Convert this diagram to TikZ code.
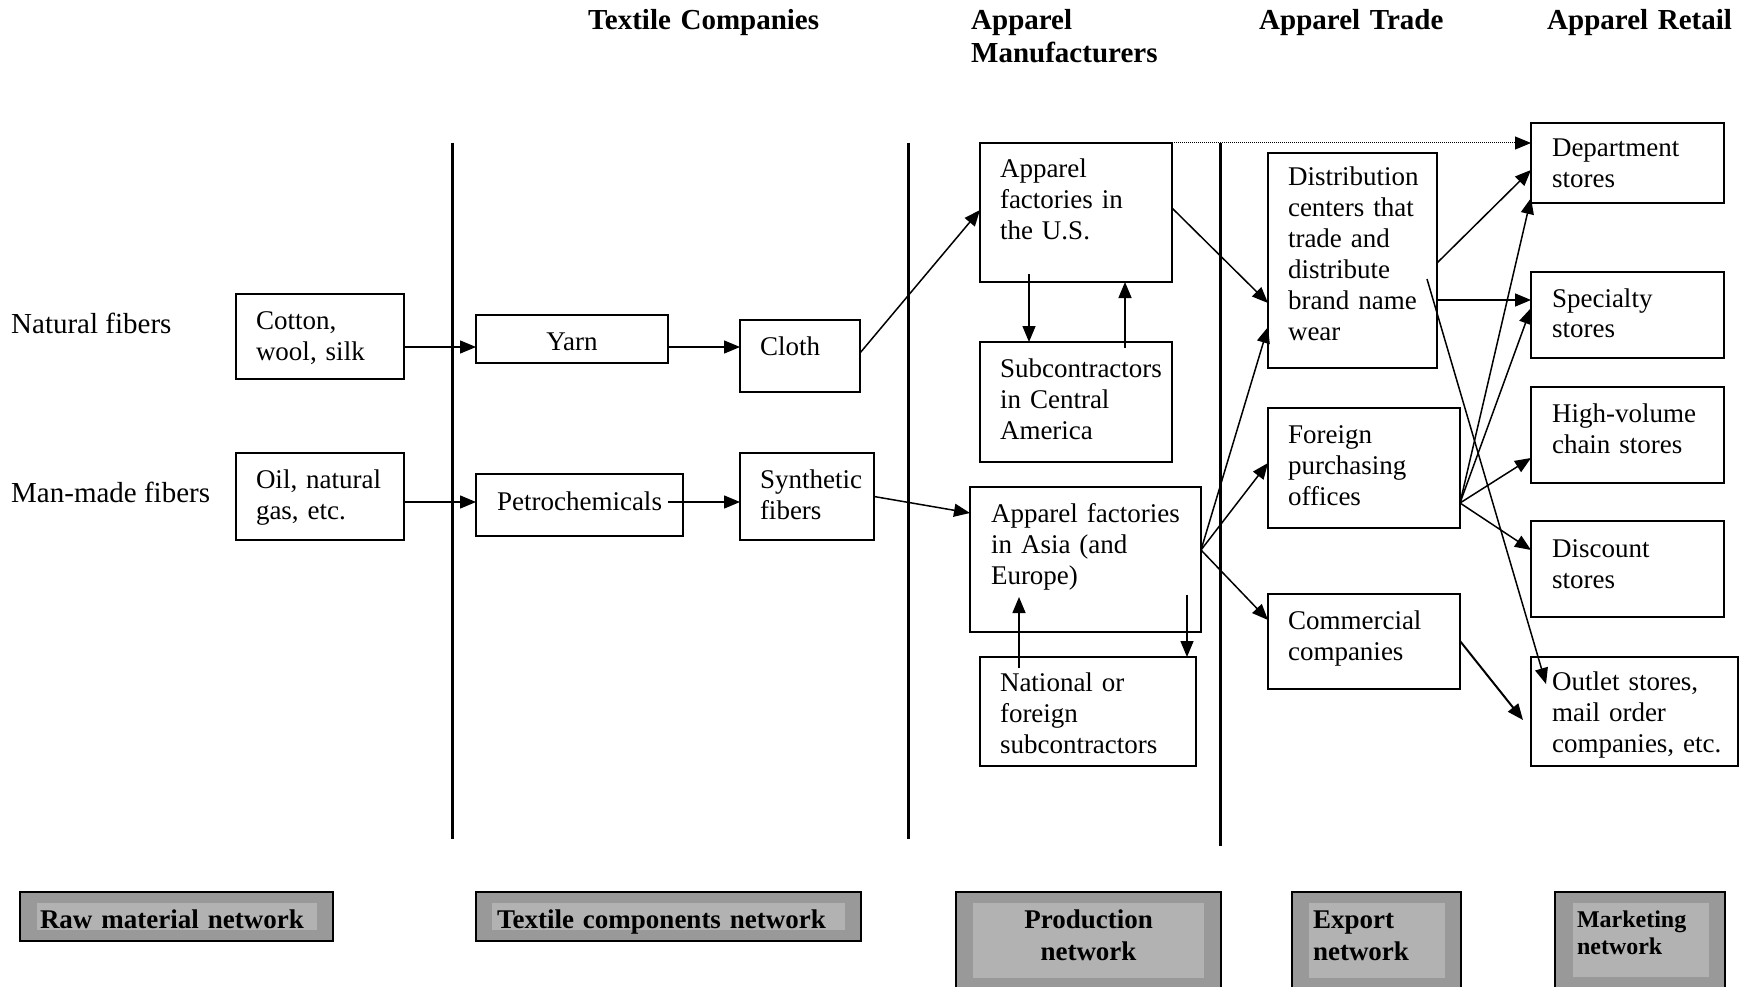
\documentclass[tikz,border=0pt]{standalone}
\usepackage{fontspec}
\setmainfont{Liberation Serif}
\usetikzlibrary{arrows.meta}

\definecolor{outergray}{gray}{0.6}
\definecolor{innergray}{gray}{0.7}
\newcommand{\cellfont}{\fontsize{27}{31}\selectfont}
\newcommand{\hdfont}{\fontsize{29}{33}\selectfont\bfseries}
\newcommand{\sidefont}{\fontsize{29}{33}\selectfont}
\newcommand{\netfont}{\fontsize{27}{32}\selectfont\bfseries}

\tikzset{
  lskip/.style={execute at begin node={\leftskip=#1\relax}},
  lskip/.default=20pt,
  plaincell/.style={draw, line width=1.6pt, anchor=north west, inner sep=0pt, outer sep=0pt, font=\cellfont},
  cell/.style={plaincell, align=left, lskip},
  midcell/.style={plaincell, align=center},
  head/.style={anchor=base west, inner sep=0pt, align=left, text width=260pt, font=\hdfont},
  side/.style={anchor=base west, inner sep=0pt, font=\sidefont},
  arr/.style={line width=1.5pt, -{Triangle[length=16pt,width=13pt]}},
  net/.style={draw, line width=1.8pt, fill=outergray, anchor=north west, inner sep=0pt, outer sep=0pt},
  netlab/.style={fill=innergray, anchor=north west, inner sep=0pt, outer sep=0pt, align=left, font=\netfont},
  divider/.style={line width=3pt}
}

\begin{document}
\begin{tikzpicture}[x=1pt, y=-1pt]
        \useasboundingbox (0,0) rectangle (1749,987);
        % column heads
        \node[head] (texthd) at (588,30) {Textile Companies};
        \node[head] (manuhd) at (971,30) {Apparel\\Manufacturers};
        \node[head] (tradehd) at (1259,30) {Apparel Trade};
        \node[head] (retailhd) at (1547,30) {Apparel Retail};
        \node[side] (natlab) at (11,333) {Natural fibers};
        \node[side] (manlab) at (11,502) {Man-made fibers};
        % dividers
        \draw[divider] (452,143) -- (452,839);
        \draw[divider] (908,143) -- (908,839);
        \draw[divider] (1220,143) -- (1220,846);
        % raw material and textile boxes
        \node[cell, text width=168pt, text height=35pt, text depth=50pt] (cotton) at (236,294) {Cotton,\\wool, silk};
        \node[cell, text width=168pt, text height=35pt, text depth=52pt] (oil) at (236,453) {Oil, natural\\gas, etc.};
        \node[midcell, text width=192pt, text height=35pt, text depth=13pt] (yarn) at (476,315) {Yarn};
        \node[midcell, text width=207pt, text height=36pt, text depth=26pt] (petro) at (476,474) {Petrochemicals};
        \node[cell, text width=120pt, text height=35pt, text depth=37pt] (cloth) at (740,320) {Cloth};
        \node[cell, text width=134pt, text height=35pt, text depth=52pt] (synth) at (740,453) {Synthetic\\fibers};
        % production boxes
        \node[cell, text width=192pt, text height=35pt, text depth=104pt] (usfac) at (980,143) {Apparel\\factories in\\the U.S.};
        \node[cell, text width=192pt, text height=35pt, text depth=85pt] (subca) at (980,342) {Subcontractors\\in Central\\America};
        \node[cell, lskip=21pt, text width=231pt, text height=35pt, text depth=110pt] (asia) at (970,487) {Apparel factories\\in Asia (and\\Europe)};
        \node[cell, text width=216pt, text height=34pt, text depth=75pt] (natsub) at (980,657) {National or\\foreign\\subcontractors};
        % trade boxes
        \node[cell, text width=169pt, text height=33pt, text depth=182pt] (dist) at (1268,153) {Distribution\\centers that\\trade and\\distribute\\brand name\\wear};
        \node[cell, text width=192pt, text height=35pt, text depth=85pt] (foreign) at (1268,408) {Foreign\\purchasing\\offices};
        \node[cell, text width=192pt, text height=35pt, text depth=60pt] (comm) at (1268,594) {Commercial\\companies};
        % retail boxes
        \node[cell, lskip=21pt, text width=193pt, text height=34pt, text depth=46pt] (dept) at (1531,123) {Department\\stores};
        \node[cell, lskip=21pt, text width=193pt, text height=35pt, text depth=51pt] (spec) at (1531,272) {Specialty\\stores};
        \node[cell, lskip=21pt, text width=193pt, text height=35pt, text depth=61pt] (highv) at (1531,387) {High-volume\\chain stores};
        \node[cell, lskip=21pt, text width=193pt, text height=36pt, text depth=60pt] (disc) at (1531,521) {Discount\\stores};
        \node[cell, lskip=21pt, text width=207pt, text height=33pt, text depth=76pt] (outlet) at (1531,657) {Outlet stores,\\mail order\\companies, etc.};
        % network boxes
        \node[net, minimum width=313pt, minimum height=49pt] (rawbox) at (20,892) {};
        \node[netlab, lskip=3pt, text width=280pt, text height=25pt, text depth=2pt] (rawnet) at (37,903) {Raw material network};
        \node[net, minimum width=385pt, minimum height=49pt] (textbox) at (476,892) {};
        \node[netlab, lskip=5pt, text width=353pt, text height=25pt, text depth=2pt] (textnet) at (492,903) {Textile components network};
        \node[net, minimum width=265pt, minimum height=110pt] (prodbox) at (956,892) {};
        \node[netlab, align=center, text width=231pt, text height=25pt, text depth=50pt] (prodnet) at (973,903) {Production\\network};
        \node[net, minimum width=169pt, minimum height=110pt] (expbox) at (1292,892) {};
        \node[netlab, lskip=4pt, text width=136pt, text height=25pt, text depth=50pt] (expnet) at (1309,903) {Export\\network};
        \node[net, minimum width=170pt, minimum height=110pt] (mktbox) at (1555,892) {};
        \node[netlab, lskip=4pt, font=\fontsize{24}{27}\selectfont\bfseries, text width=136pt, text height=24pt, text depth=50pt] (mktnet) at (1573,903) {Marketing\\network};
        % hubs
        \coordinate (asiahub) at ([shift={(0,63)}]asia.north east);
        \coordinate (forhub) at ([shift={(0,95)}]foreign.north east);
        % flows
        \draw[arr] ([shift={(0,10.5)}]cotton.east) -- ([shift={(0,8)}]yarn.west);
        \draw[arr] ([shift={(0,8)}]yarn.east) -- ([shift={(0,-9)}]cloth.west);
        \draw[arr] ([shift={(0,5.5)}]oil.east) -- ([shift={(0,-3)}]petro.west);
        \draw[arr] ([shift={(-15,-3)}]petro.east) -- ([shift={(0,5.5)}]synth.west);
        \draw[arr] ([shift={(0,-3)}]cloth.east) -- ([shift={(0,-2.5)}]usfac.west);
        \draw[arr] (synth.east) -- ([shift={(0,26)}]asia.north west);
        \draw[arr] ([shift={(49,-8)}]usfac.south west) -- ([shift={(49,0)}]subca.north west);
        \draw[arr] ([shift={(145,6)}]subca.north west) -- ([shift={(145,0)}]usfac.south west);
        \draw[arr] ([shift={(-14,-37)}]asia.south east) -- ([shift={(-9,0)}]natsub.north east);
        \draw[arr] ([shift={(39,11)}]natsub.north west) -- ([shift={(49,-35)}]asia.south west);
        \draw[arr] ([shift={(0,65)}]usfac.north east) -- ([shift={(0,150)}]dist.north west);
        \draw[arr, line width=1pt, dash pattern=on 1pt off 1pt] (usfac.north east) -- ([shift={(0,20)}]dept.north west);
        \draw[arr] (asiahub) -- ([shift={(0,174)}]dist.north west);
        \draw[arr] (asiahub) -- ([shift={(0,55)}]foreign.north west);
        \draw[arr] (asiahub) -- ([shift={(0,26)}]comm.north west);
        \draw[arr] ([shift={(0,110)}]dist.north east) -- ([shift={(0,47)}]dept.north west);
        \draw[arr] ([shift={(0,147)}]dist.north east) -- ([shift={(0,28)}]spec.north west);
        \draw[arr] ([shift={(-10,126)}]dist.north east) -- ([shift={(15,27)}]outlet.north west);
        \draw[arr] (forhub) -- ([shift={(0,75)}]dept.north west);
        \draw[arr] (forhub) -- ([shift={(0,36)}]spec.north west);
        \draw[arr] (forhub) -- ([shift={(0,71)}]highv.north west);
        \draw[arr] (forhub) -- ([shift={(0,29)}]disc.north west);
        \draw[arr, line width=2pt] ([shift={(0,47)}]comm.north east) -- ([shift={(-8,63)}]outlet.north west);
    \end{tikzpicture}
\end{document}
